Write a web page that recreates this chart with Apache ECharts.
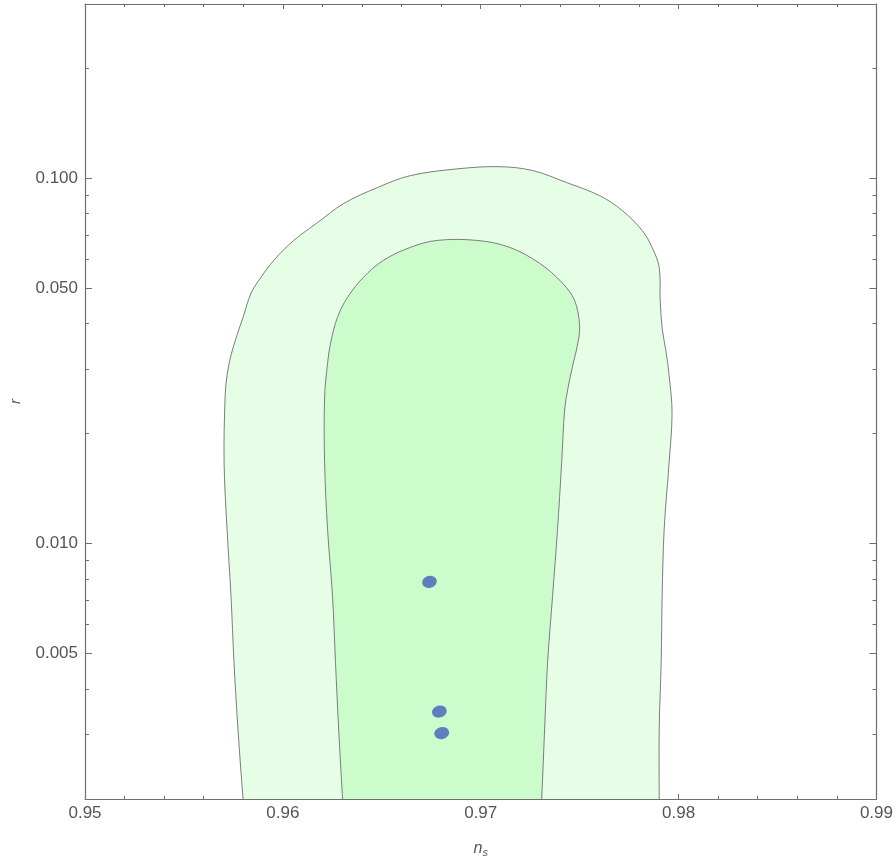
<!DOCTYPE html>
<html><head><meta charset="utf-8">
<script src="https://cdn.jsdelivr.net/npm/echarts@6/dist/echarts.min.js"></script>
<style>html,body{margin:0;padding:0;background:#fff}#c{width:896px;height:863px}</style>
</head><body><div id="c"></div>
<script>
// 95% (outer) credible contour: n_s and r values
const outerNs = [0.95825,0.95812,0.95799,0.95773,0.95753,0.95738,0.95718,0.95703,0.95708,0.95718,0.95738,0.95768,0.95799,0.95839,0.95889,0.95954,0.96055,0.96176,0.96307,0.96478,0.96644,0.96895,0.97097,0.97263,0.97434,0.97600,0.97715,0.97816,0.97866,0.97902,0.97907,0.97917,0.97937,0.97952,0.97967,0.97952,0.97927,0.97917,0.97912,0.97902,0.97902,0.97902,0.97902];
const outerR  = [0.0014,0.0017,0.002,0.00311,0.00473,0.00717,0.01092,0.01664,0.0252,0.02893,0.03281,0.0372,0.04166,0.04846,0.05357,0.05962,0.06761,0.07569,0.0853,0.09433,0.1017,0.1063,0.1076,0.105,0.09734,0.0897,0.08163,0.07198,0.0647,0.05705,0.04636,0.03888,0.03343,0.02893,0.02278,0.01664,0.01092,0.00717,0.00473,0.00311,0.002,0.0017,0.0014];
// 68% (inner) credible contour
const innerNs = [0.96325,0.96313,0.96302,0.96282,0.96266,0.96251,0.96226,0.96211,0.96211,0.96226,0.96241,0.96276,0.96327,0.96407,0.96508,0.96644,0.96780,0.96981,0.97147,0.97298,0.97414,0.97474,0.97499,0.97494,0.97469,0.97439,0.97424,0.97409,0.97388,0.97363,0.97338,0.97323,0.97308,0.97300,0.97292];
const innerR  = [0.0014,0.0017,0.002,0.00311,0.00473,0.00717,0.01092,0.01664,0.0252,0.0312,0.03538,0.04166,0.04725,0.05357,0.05962,0.0647,0.06761,0.06761,0.0647,0.0585,0.05159,0.04636,0.04012,0.03605,0.0314,0.02633,0.02322,0.01664,0.01092,0.00717,0.00473,0.00311,0.002,0.0017,0.0014];
// model predictions
const pointNs = [0.96741,0.96791,0.96803];
const pointR  = [0.00786,0.00347,0.00303];
// axis ticks
const xMin = 0.95, xMax = 0.99, xStep = 0.01;
const yMin = 0.002, yMax = 0.3;
const yMajorTicks = [0.005,0.01,0.05,0.1];
const yMinorTicks = [0.003,0.004,0.006,0.007,0.008,0.009,0.02,0.03,0.04,0.06,0.07,0.08,0.09,0.2,0.3];

const axisColor = '#6f6f6f';
const labelColor = '#555';
const font = 'Liberation Sans, Arial, sans-serif';

function polygonSeries(ns, r, fill, z) {
  const data = ns.map((x, i) => [x, r[i]]);
  return {
    type: 'custom', coordinateSystem: 'cartesian2d', xAxisIndex: 0, yAxisIndex: 0,
    clip: true, silent: true, z: z, data: data,
    renderItem: function (params, api) {
      if (params.dataIndex !== 0) return null;
      const pts = data.map(d => api.coord(d));
      return {
        type: 'polygon',
        shape: { points: pts, smooth: 0.35 },
        style: { fill: fill, stroke: '#7d7d7d', lineWidth: 1 }
      };
    }
  };
}

function yAxisDef(pos, ticks, len, showLine, showLabel) {
  return {
    type: 'log', logBase: 10, position: pos, min: yMin, max: yMax,
    axisLine: { show: showLine, lineStyle: { color: axisColor, width: 1.2 } },
    axisTick: { show: true, inside: true, length: len, customValues: ticks, lineStyle: { color: axisColor } },
    axisLabel: showLabel ? { show: true, customValues: ticks, formatter: v => Number(v).toFixed(3), margin: 7, fontSize: 17, color: labelColor, fontFamily: font } : { show: false },
    splitLine: { show: false }, minorTick: { show: false }
  };
}

const chart = echarts.init(document.getElementById('c'), null, { renderer: 'canvas' });
const yAxes = [
  yAxisDef('left', yMajorTicks, 7, true, true),
  yAxisDef('left', yMinorTicks, 4, false, false),
  yAxisDef('right', yMajorTicks, 7, true, false),
  yAxisDef('right', yMinorTicks, 4, false, false)
];
Object.assign(yAxes[0], {
  name: 'r', nameLocation: 'middle', nameGap: 62, nameRotate: 90,
  nameTextStyle: { fontStyle: 'italic', fontSize: 15, color: labelColor, fontFamily: font }
});

function xAxisDef(pos, showLabel) {
  return {
    type: 'value', position: pos, min: xMin, max: xMax, interval: xStep,
    axisLine: { show: true, lineStyle: { color: axisColor, width: 1.2 } },
    axisTick: { show: true, inside: true, length: 5, lineStyle: { color: axisColor } },
    minorTick: { show: true, splitNumber: 5, length: 3, lineStyle: { color: axisColor } },
    axisLabel: showLabel ? { show: true, formatter: v => Number(v).toFixed(2), margin: 6, fontSize: 17, color: labelColor, fontFamily: font } : { show: false },
    splitLine: { show: false }
  };
}
const xAxes = [xAxisDef('bottom', true), xAxisDef('top', false)];
Object.assign(xAxes[0], {
  name: '{n|n}{s|s}', nameLocation: 'middle', nameGap: 40,
  nameTextStyle: {
    rich: {
      n: { fontStyle: 'italic', fontSize: 16, color: labelColor, fontFamily: font },
      s: { fontStyle: 'italic', fontSize: 11, color: labelColor, fontFamily: font, padding: [8, 0, 0, 0] }
    }
  }
});

chart.setOption({
  animation: false,
  backgroundColor: '#fff',
  grid: { left: 83, right: 18, top: 4, bottom: 64, containLabel: false },
  xAxis: xAxes,
  yAxis: yAxes,
  series: [
    polygonSeries(outerNs, outerR, '#e6fde6', 1),
    polygonSeries(innerNs, innerR, '#ccfccc', 2),
    {
      type: 'scatter', xAxisIndex: 0, yAxisIndex: 0, z: 5,
      symbol: 'circle', symbolSize: [15, 12], symbolRotate: 15,
      itemStyle: { color: '#5e7fbd', opacity: 1 },
      data: pointNs.map((x, i) => [x, pointR[i]])
    }
  ]
});
</script>
</body></html>
